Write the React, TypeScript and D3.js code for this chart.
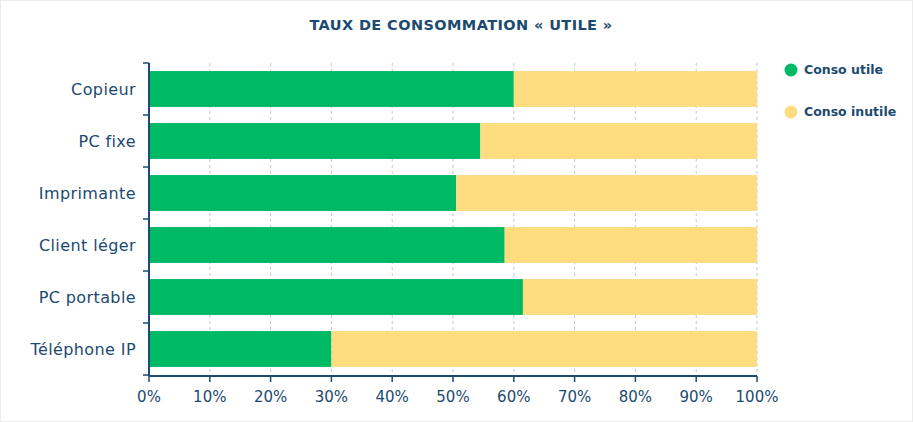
import React from "react";
import * as d3 from "d3";

const categories = ["Copieur", "PC fixe", "Imprimante", "Client léger", "PC portable", "Téléphone IP"];
const utile = [60, 54.5, 50.5, 58.5, 61.5, 30];
const xTicks = [0, 10, 20, 30, 40, 50, 60, 70, 80, 90, 100];
const seriesNames = ["Conso utile", "Conso inutile"];
const title = "TAUX DE CONSOMMATION « UTILE »";

const W = 913;
const H = 422;
const navy = "#1c4a70";
const green = "#00b964";
const yellow = "#fddd80";
const font = "'DejaVu Sans', sans-serif";

export default function App() {
  const x = d3.scaleLinear().domain([0, 100]).range([149, 757]);
  const y = d3.scaleBand().domain(categories).range([63, 375]).paddingInner(0.31).paddingOuter(0.155);
  const step = y.step();
  const top = 63;
  const bottom = 375;
  const boundaries = d3.range(categories.length + 1).map((i) => top + i * step);

  return (
    <svg width={W} height={H} style={{ position: "absolute", left: 0, top: 0, background: "#fff" }}>
      <rect x={0.5} y={0.5} width={W - 1} height={H - 1} fill="#fff" stroke="#ececec" />
      <text x={461} y={30} textAnchor="middle" fontFamily={font} fontWeight="bold" fontSize={14.5} letterSpacing={0.4} fill={navy}>
        {title}
      </text>
      {xTicks.slice(1).map((t) => (
        <line key={t} x1={x(t)} x2={x(t)} y1={top} y2={bottom} stroke="#b4cddb" strokeDasharray="3,3" strokeWidth={1} />
      ))}
      {categories.map((c, i) => (
        <g key={c}>
          <rect x={x(0)} y={y(c)} width={x(utile[i]) - x(0)} height={y.bandwidth()} fill={green} />
          <rect x={x(utile[i])} y={y(c)} width={x(100) - x(utile[i])} height={y.bandwidth()} fill={yellow} />
          <text x={136} y={(y(c) as number) + y.bandwidth() / 2} dy="0.35em" textAnchor="end" fontFamily={font} fontSize={16} letterSpacing={0.4} fill={navy}>
            {c}
          </text>
        </g>
      ))}
      <line x1={x(0)} x2={x(0)} y1={top} y2={bottom + 1} stroke={navy} strokeWidth={2} />
      {boundaries.map((b, i) => (
        <line key={i} x1={143} x2={x(0)} y1={b} y2={b} stroke={navy} strokeWidth={1.5} />
      ))}
      <line x1={x(0)} x2={x(100)} y1={bottom + 1} y2={bottom + 1} stroke={navy} strokeWidth={2} />
      {xTicks.map((t) => (
        <g key={t}>
          <line x1={x(t)} x2={x(t)} y1={bottom + 1} y2={bottom + 7} stroke={navy} strokeWidth={1.5} />
          <text x={x(t)} y={402} textAnchor="middle" fontFamily={font} fontSize={15} fill={navy}>
            {t}%
          </text>
        </g>
      ))}
      {seriesNames.map((s, i) => (
        <g key={s}>
          <circle cx={791} cy={70 + i * 42} r={6.5} fill={i === 0 ? green : yellow} />
          <text x={804} y={70 + i * 42} dy="0.35em" fontFamily={font} fontWeight="bold" fontSize={12.5} fill={navy}>
            {s}
          </text>
        </g>
      ))}
    </svg>
  );
}
